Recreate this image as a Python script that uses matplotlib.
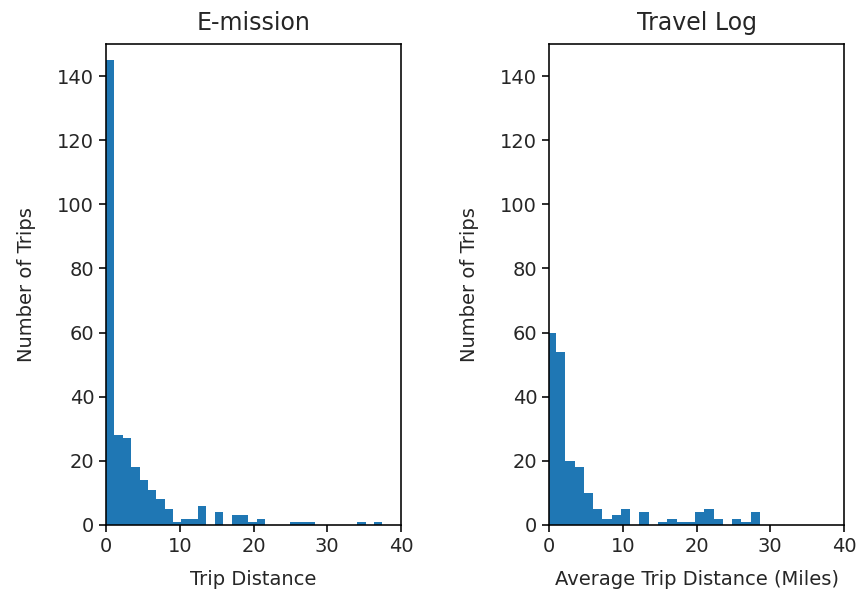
import numpy as np
import matplotlib
matplotlib.use("Agg")
import matplotlib.pyplot as plt

# histogram counts
emission_counts = [145, 28, 27, 18, 14, 11, 8, 5, 1, 2, 2, 6, 0, 4, 0, 3, 3, 1, 2,
                   0, 0, 0, 1, 1, 1, 0, 0, 0, 0, 0, 1, 0, 1]
emission_start, emission_width = 0.0, 1.135

travel_counts = [60, 54, 20, 18, 10, 5, 2, 3, 5, 0, 4, 0, 1, 2, 1, 1, 4, 5, 2, 0, 2, 1, 4]
travel_start, travel_width = -0.31, 1.257

titles = ["E-mission", "Travel Log"]
xlabels = ["Trip Distance", "Average Trip Distance (Miles)"]
ylabel = "Number of Trips"
xticks = [0, 10, 20, 30, 40]
yticks = [0, 20, 40, 60, 80, 100, 120, 140]

plt.rcParams.update({
    "font.family": "DejaVu Sans",
    "axes.linewidth": 1.15,
    "xtick.major.width": 1.15,
    "ytick.major.width": 1.15,
    "xtick.major.size": 5,
    "ytick.major.size": 5,
    "text.color": "#262626",
    "xtick.labelcolor": "#262626",
    "ytick.labelcolor": "#262626",
    "axes.labelcolor": "#262626",
})

fig = plt.figure(figsize=(8.6, 5.94), dpi=100)
ax1 = fig.add_axes([0.1233, 0.1162, 0.343, 0.8098])
ax2 = fig.add_axes([0.6384, 0.1162, 0.343, 0.8098])

panels = [
    (ax1, emission_counts, emission_start, emission_width),
    (ax2, travel_counts, travel_start, travel_width),
]

for i, (ax, counts, start, width) in enumerate(panels):
    counts = np.array(counts, dtype=float)
    edges = start + width * np.arange(len(counts) + 1)
    ax.hist(edges[:-1], bins=edges, weights=counts, color="#1f77b4")
    ax.set_xlim(0, 40)
    ax.set_ylim(0, 150)
    ax.set_xticks(xticks)
    ax.set_yticks(yticks)
    ax.tick_params(labelsize=14)
    ax.set_title(titles[i], fontsize=17, pad=10)
    ax.set_xlabel(xlabels[i], fontsize=14, labelpad=10)
    ax.set_ylabel(ylabel, fontsize=14, labelpad=15)

fig.savefig("out.png", dpi=100)
